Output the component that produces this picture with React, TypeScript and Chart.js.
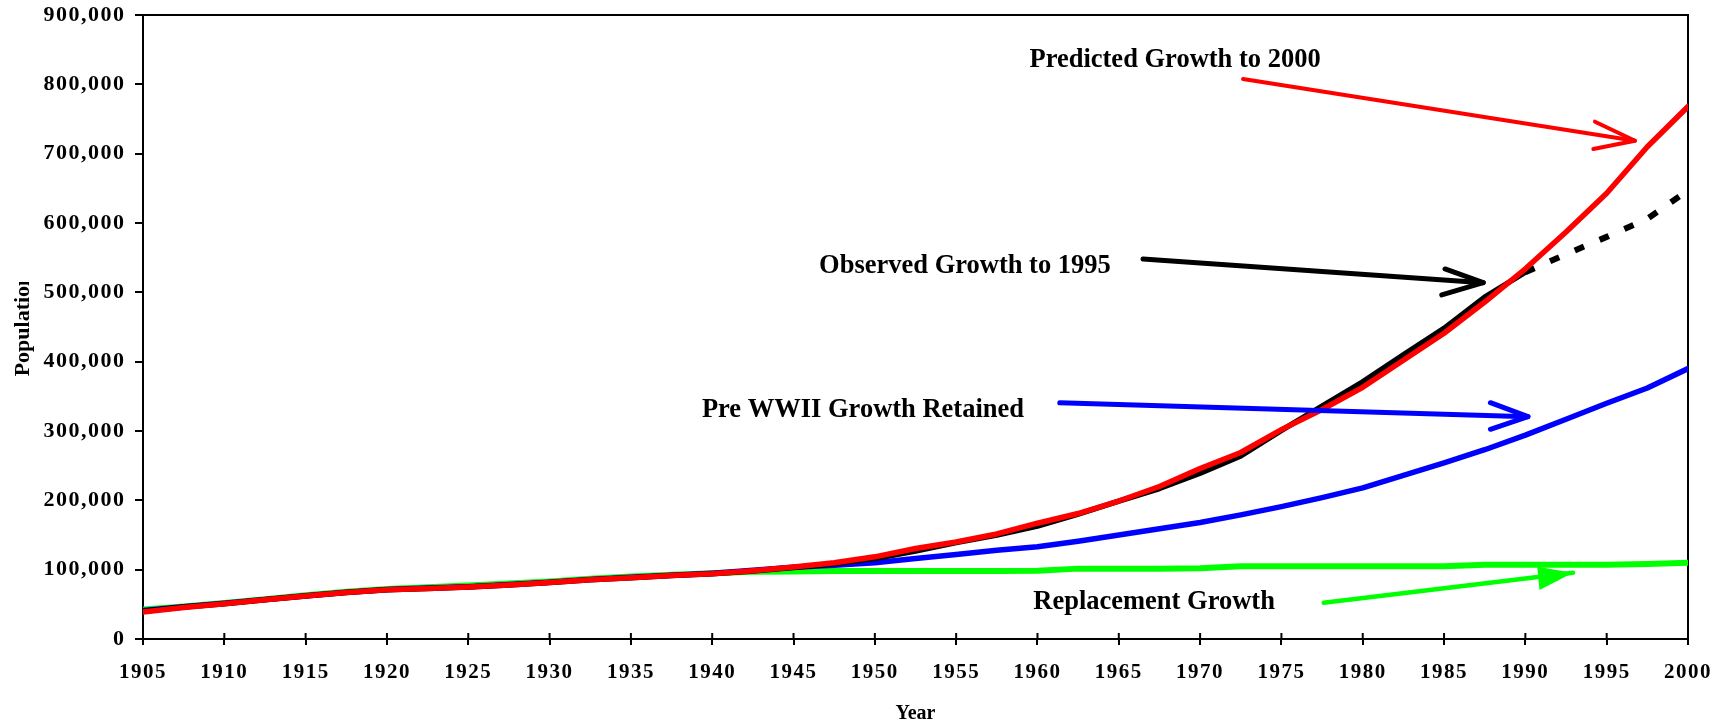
import React, { useEffect, useRef } from "react";
import { Chart, registerables } from "chart.js";

Chart.register(...registerables);

const FONT = '"Liberation Serif", "Times New Roman", serif';

// Years (x values)
const years = [
  1905, 1907.5, 1910, 1912.5, 1915, 1917.5, 1920, 1922.5, 1925, 1927.5,
  1930, 1932.5, 1935, 1937.5, 1940, 1942.5, 1945, 1947.5, 1950, 1952.5,
  1955, 1957.5, 1960, 1962.5, 1965, 1967.5, 1970, 1972.5, 1975, 1977.5,
  1980, 1982.5, 1985, 1987.5, 1990, 1992.5, 1995, 1997.5, 2000,
];

const predictedGrowth = [
  38900, 45500, 51000, 56500, 62000, 67000, 71000, 73000, 75000, 78000,
  81500, 85500, 88500, 91500, 94000, 98500, 104000, 110000, 118500, 130500,
  140000, 151500, 167000, 181000, 199000, 220000, 246000, 269000, 302000, 331000,
  363000, 402000, 441000, 486000, 534000, 587000, 643000, 710000, 768000,
];

const observedGrowth = [
  40000, 46000, 51000, 56500, 62000, 67000, 71000, 73000, 75000, 78000,
  81500, 85500, 88500, 91500, 94000, 98000, 103000, 108500, 116000, 127000,
  139000, 150000, 163000, 180000, 199000, 217000, 239000, 264000, 301000, 336000,
  371000, 410000, 448000, 493000, 529000, null, null, null, null,
];

const observedProjection = [
  null, null, null, null, null, null, null, null, null, null,
  null, null, null, null, null, null, null, null, null, null,
  null, null, null, null, null, null, null, null, null, null,
  null, null, null, null, 529000, 555000, 580000, 606000, 647000,
];

const preWWIIGrowth = [
  41000, 46500, 51500, 57000, 62500, 67500, 71500, 73500, 75500, 78500,
  82000, 86000, 89000, 92000, 95000, 99000, 103500, 106500, 110000, 116000,
  122000, 128000, 133000, 141000, 150000, 159000, 168000, 179000, 191000, 204000,
  218000, 236000, 254000, 273000, 294000, 317000, 340000, 362000, 390000,
];

const replacementGrowth = [
  42500, 47000, 52000, 57500, 63000, 68000, 72000, 74500, 77000, 80000,
  83000, 87000, 90000, 92500, 95000, 97000, 97500, 98000, 98000, 98000,
  98000, 98000, 98500, 101500, 101500, 101500, 102000, 105000, 105000, 105000,
  105000, 105000, 105000, 107000, 107000, 107000, 107000, 108000, 110000,
];

// Annotations (in data units: [year, population])
const annotationTexts = [
  "Predicted Growth to 2000",
  "Observed Growth to 1995",
  "Pre WWII Growth Retained",
  "Replacement Growth",
];
const annotationAt = [
  [1968.46, 835100],
  [1955.54, 537100],
  [1949.27, 330300],
  [1967.17, 53400],
];
const arrowColors = ["#FF0000", "#000000", "#0000FF", "#00FF00"];
const arrowWidths = [4, 5, 5, 4.5];
const arrowFrom = [
  [1972.64, 807700],
  [1966.49, 548100],
  [1961.37, 340800],
  [1977.6, 52400],
];
const arrowTo = [
  [1996.74, 718700],
  [1987.41, 513900],
  [1990.16, 320600],
  [1992.93, 95600],
];
const arrowArmA = [
  [1994.28, 746100],
  [1985.06, 533700],
  [1987.85, 340800],
  [1990.73, 104300],
];
const arrowArmB = [
  [1994.18, 706700],
  [1984.86, 496200],
  [1987.85, 302500],
  [1990.87, 70700],
];
const arrowFilled = [false, false, false, true];

const yAxisTitle = "Population";
const xAxisTitle = "Year";

const toPoints = (vals: (number | null)[]) =>
  years.map((x, i) => ({ x, y: vals[i] }));

const spacingPlugin = {
  id: "tickLetterSpacing",
  beforeDraw(chart: any) {
    (chart.ctx as any).letterSpacing = "1.5px";
  },
};

const framePlugin = {
  id: "frameAndInnerTicks",
  beforeDatasetsDraw(chart: any) {
    const { ctx, chartArea: a, scales } = chart;
    ctx.save();
    ctx.strokeStyle = "#000";
    ctx.lineWidth = 2;
    ctx.beginPath();
    ctx.moveTo(a.left, a.top);
    ctx.lineTo(a.right, a.top);
    ctx.lineTo(a.right, a.bottom);
    ctx.stroke();
    const xs = scales.x;
    ctx.beginPath();
    xs.ticks.forEach((t: any) => {
      const px = xs.getPixelForValue(t.value);
      ctx.moveTo(px, a.bottom);
      ctx.lineTo(px, a.bottom - 6);
    });
    ctx.stroke();
    ctx.restore();
  },
};

const annotationPlugin = {
  id: "arrowAnnotations",
  afterDatasetsDraw(chart: any) {
    const { ctx, scales } = chart;
    const xs = scales.x;
    const ys = scales.y;
    const P = (pt: number[]) => [xs.getPixelForValue(pt[0]), ys.getPixelForValue(pt[1])];
    ctx.save();
    (ctx as any).letterSpacing = "0px";
    ctx.lineCap = "round";
    ctx.lineJoin = "round";
    for (let i = 0; i < annotationTexts.length; i++) {
      const f = P(arrowFrom[i]);
      const t = P(arrowTo[i]);
      const a = P(arrowArmA[i]);
      const b = P(arrowArmB[i]);
      ctx.strokeStyle = arrowColors[i];
      ctx.fillStyle = arrowColors[i];
      ctx.lineWidth = arrowWidths[i];
      ctx.beginPath();
      ctx.moveTo(f[0], f[1]);
      ctx.lineTo(t[0], t[1]);
      ctx.stroke();
      ctx.beginPath();
      ctx.moveTo(a[0], a[1]);
      ctx.lineTo(t[0], t[1]);
      ctx.lineTo(b[0], b[1]);
      if (arrowFilled[i]) {
        ctx.closePath();
        ctx.fill();
      } else {
        ctx.stroke();
      }
      const p = P(annotationAt[i]);
      ctx.fillStyle = "#000";
      ctx.font = `bold 26.5px ${FONT}`;
      ctx.textAlign = "center";
      ctx.textBaseline = "middle";
      ctx.fillText(annotationTexts[i], p[0], p[1]);
    }
    ctx.restore();
  },
};

const axisTitlesPlugin = {
  id: "axisTitles",
  afterDraw(chart: any) {
    const { ctx, chartArea: a } = chart;
    // x-axis title
    ctx.save();
    (ctx as any).letterSpacing = "0px";
    ctx.font = `bold 20px ${FONT}`;
    ctx.fillStyle = "#000";
    ctx.textAlign = "center";
    ctx.textBaseline = "middle";
    ctx.fillText(xAxisTitle, (a.left + a.right) / 2, a.bottom + 75);
    ctx.restore();
    // y-axis title (its last letter is cut off, as in the source)
    const cy = (a.top + a.bottom) / 2 - 2;
    ctx.save();
    (ctx as any).letterSpacing = "0px";
    ctx.beginPath();
    ctx.rect(0, cy - 43, 60, 400);
    ctx.clip();
    ctx.translate(23, cy);
    ctx.rotate(-Math.PI / 2);
    ctx.font = `bold 22px ${FONT}`;
    ctx.fillStyle = "#000";
    ctx.textAlign = "center";
    ctx.textBaseline = "middle";
    ctx.fillText(yAxisTitle, 0, 0);
    ctx.restore();
    (ctx as any).letterSpacing = "0px";
  },
};

export default function App() {
  const canvasRef = useRef<HTMLCanvasElement | null>(null);

  useEffect(() => {
    document.body.style.margin = "0";
    const canvas = canvasRef.current;
    if (!canvas) return;
    const chart = new Chart(canvas, {
      type: "line",
      data: {
        datasets: [
          { label: annotationTexts[0], data: toPoints(predictedGrowth), borderColor: "#FF0000", borderWidth: 5.5 },
          { label: annotationTexts[1], data: toPoints(observedGrowth), borderColor: "#000000", borderWidth: 5.5 },
          {
            label: "Observed projection",
            data: toPoints(observedProjection),
            borderColor: "#000000",
            borderWidth: 6,
            borderDash: [10, 17],
            borderCapStyle: "butt",
          },
          { label: annotationTexts[2], data: toPoints(preWWIIGrowth), borderColor: "#0000FF", borderWidth: 5.5 },
          { label: annotationTexts[3], data: toPoints(replacementGrowth), borderColor: "#00FF00", borderWidth: 6 },
        ],
      } as any,
      options: {
        animation: false,
        responsive: false,
        devicePixelRatio: 1,
        layout: { padding: { top: 15, right: 32, bottom: 0, left: 0 } },
        plugins: { legend: { display: false }, tooltip: { enabled: false } },
        elements: {
          point: { radius: 0 },
          line: { tension: 0, borderCapStyle: "round", borderJoinStyle: "round", fill: false },
        },
        scales: {
          x: {
            type: "linear",
            min: 1905,
            max: 2000,
            ticks: {
              stepSize: 5,
              autoSkip: false,
              maxRotation: 0,
              padding: 15,
              color: "#000",
              font: { family: FONT, size: 21, weight: "bold" },
              callback: (v: any) => String(Math.round(Number(v))),
            },
            grid: { display: true, drawOnChartArea: false, drawTicks: true, tickLength: 6, color: "#000", lineWidth: 2 },
            border: { display: true, color: "#000", width: 2 },
            title: { display: false },
            afterFit: (s: any) => {
              s.height = 85;
              s.paddingLeft = 0;
              s.paddingRight = 0;
              s.paddingTop = 0;
              s.paddingBottom = 0;
            },
          },
          y: {
            type: "linear",
            min: 0,
            max: 900000,
            ticks: {
              stepSize: 100000,
              padding: 9.5,
              color: "#000",
              font: { family: FONT, size: 22, weight: "bold" },
              callback: (v: any) => Number(v).toLocaleString("en-US"),
            },
            grid: { display: true, drawOnChartArea: false, drawTicks: true, tickLength: 8, color: "#000", lineWidth: 2 },
            border: { display: true, color: "#000", width: 2 },
            afterFit: (s: any) => {
              s.width = 143;
              s.paddingLeft = 0;
              s.paddingRight = 0;
              s.paddingTop = 0;
              s.paddingBottom = 0;
            },
          },
        },
      } as any,
      plugins: [spacingPlugin, framePlugin, annotationPlugin, axisTitlesPlugin],
    });
    return () => chart.destroy();
  }, []);

  return (
    <div style={{ width: 1720, height: 724 }}>
      <canvas ref={canvasRef} width={1720} height={724} style={{ display: "block" }} />
    </div>
  );
}
